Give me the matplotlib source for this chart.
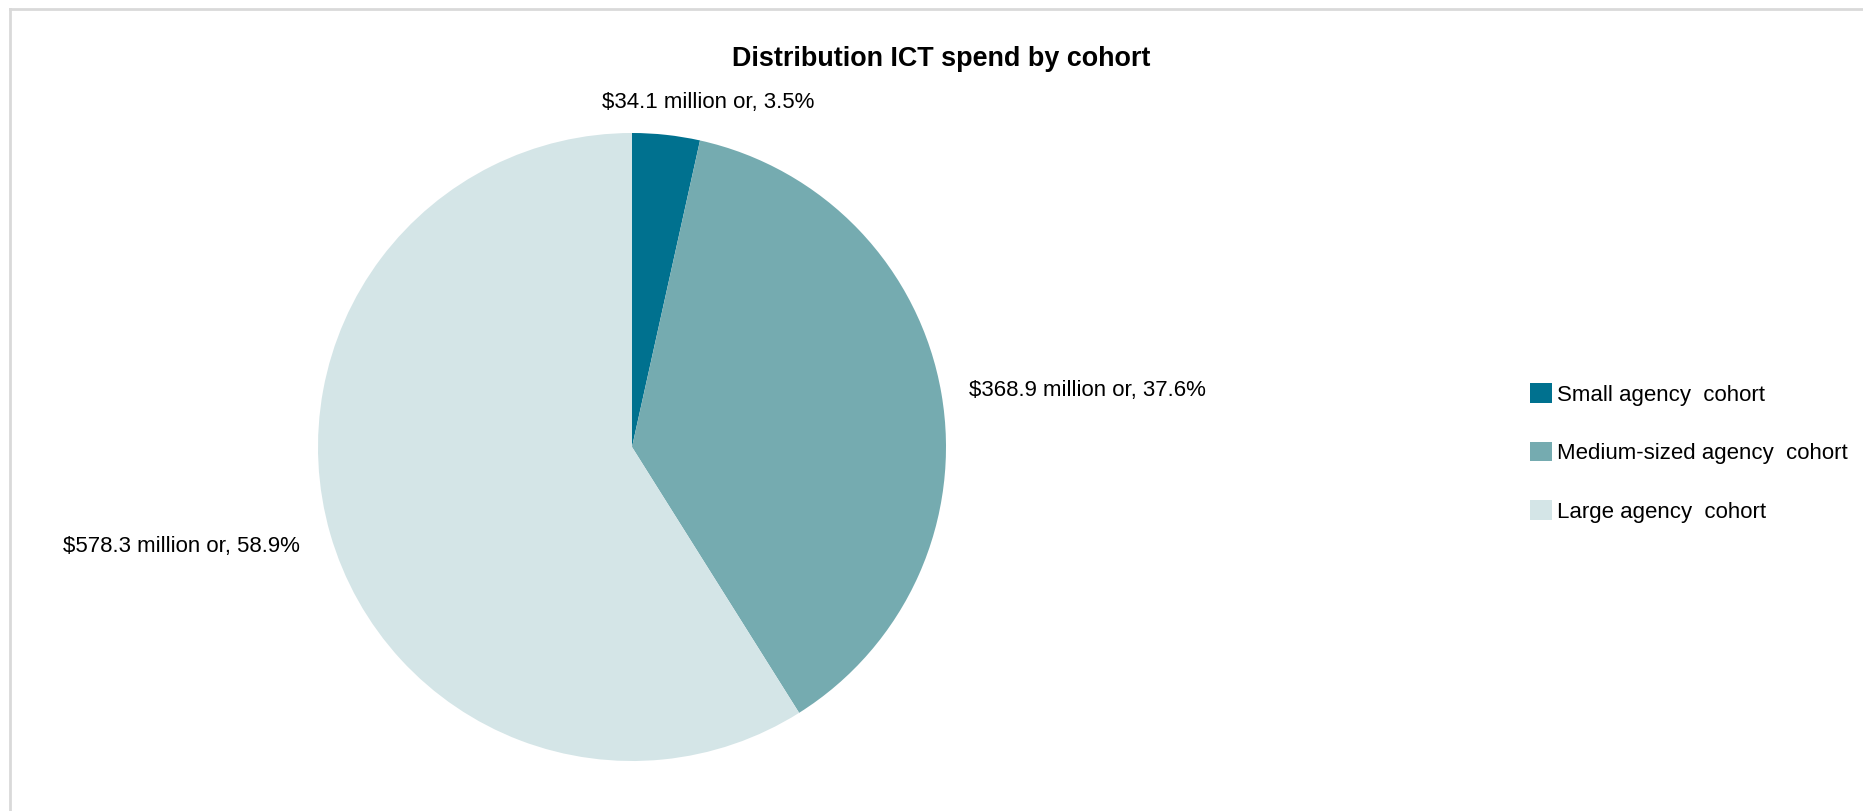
import matplotlib

matplotlib.use("Agg")
import matplotlib.pyplot as plt
import numpy as np

plt.rcParams["font.family"] = ["Liberation Sans", "DejaVu Sans"]

# ICT spend per cohort ($ million)
cohorts = ["Small agency  cohort", "Medium-sized agency  cohort", "Large agency  cohort"]
spend = [34.1, 368.9, 578.3]
shares = [3.5, 37.6, 58.9]
colors = ["#00718F", "#75ABB0", "#D4E5E7"]

W, H = 1863, 811
fig = plt.figure(figsize=(W / 100, H / 100), dpi=100)

# light frame along the top and left edge
frame = dict(color="#D9D9D9", linewidth=2, transform=fig.transFigure, clip_on=False)
fig.add_artist(plt.Line2D([10 / W, 1], [1 - 9 / H, 1 - 9 / H], **frame))
fig.add_artist(plt.Line2D([10 / W, 10 / W], [0, 1 - 9 / H], **frame))

# pie axes: centre (632, 447) px, radius 314 px
cx, cy, r = 632, 447, 314
ax = fig.add_axes([(cx - r) / W, (H - cy - r) / H, 2 * r / W, 2 * r / H])

wedges, _ = ax.pie(
    spend,
    colors=colors,
    startangle=90,
    counterclock=False,
    radius=1,
    wedgeprops=dict(linewidth=0),
)
ax.set_xlim(-1, 1)
ax.set_ylim(-1, 1)
ax.set_aspect("equal")
ax.axis("off")

# data labels placed outside each wedge
label_style = [
    dict(dist=1.07, dx=0.125, dy=0.0, ha="center", va="bottom"),
    dict(dist=1.09, dx=0.0, dy=-0.005, ha="left", va="center"),
    dict(dist=1.10, dx=0.0, dy=-0.013, ha="right", va="center"),
]
for w, v, s, st in zip(wedges, spend, shares, label_style):
    ang = np.deg2rad((w.theta1 + w.theta2) / 2)
    x = st["dist"] * np.cos(ang) + st["dx"]
    y = st["dist"] * np.sin(ang) + st["dy"]
    ax.text(
        x, y, f"${v:.1f} million or, {s:.1f}%",
        ha=st["ha"], va=st["va"], fontsize=16, color="#000000", clip_on=False,
    )

fig.text(941 / W, 1 - 59 / H, "Distribution ICT spend by cohort",
         ha="center", va="center", fontsize=19.4, fontweight="bold")

leg = fig.legend(
    wedges, cohorts,
    loc="center left",
    bbox_to_anchor=(1510 / W, 1 - 453 / H),
    frameon=False,
    fontsize=16,
    handlelength=1.0,
    handleheight=0.95,
    handletextpad=0.22,
    labelspacing=1.63,
)

fig.savefig("out.png", dpi=100)
